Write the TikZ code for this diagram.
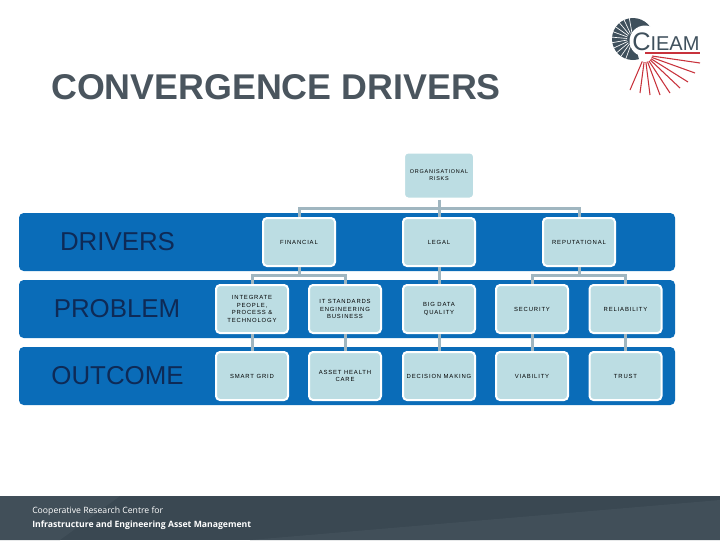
\documentclass[tikz,border=0pt]{standalone}
\usepackage{fontspec}
\setmainfont{Liberation Sans}
\newfontfamily\boxfont[LetterSpace=14]{Liberation Sans}
\newfontfamily\footfont{Open Sans}
\usetikzlibrary{positioning}
\definecolor{bandblue}{HTML}{0A6CB8}
\definecolor{boxfill}{HTML}{BCDDE3}
\definecolor{linkgrey}{HTML}{A0B6C0}
\definecolor{titlegrey}{HTML}{4A555E}
\definecolor{labelnavy}{HTML}{0E2A56}
\definecolor{footdark}{HTML}{3A4852}
\definecolor{footlight}{HTML}{414F59}
\definecolor{logodark}{HTML}{3F505C}
\definecolor{logored}{HTML}{C8323C}

\begin{document}
\begin{tikzpicture}[x=0.75pt, y=-0.75pt,
      band/.style={fill=bandblue, rounded corners=3.5pt, minimum width=492pt, minimum height=43.5pt, inner sep=0pt},
      bandlabel/.style={font=\fontsize{19.4pt}{22pt}\selectfont, text=labelnavy, inner sep=0pt},
      box/.style={draw=white, line width=1.5pt, fill=boxfill, rounded corners=3pt, minimum width=54pt,
                  minimum height=36pt, inner sep=0pt, align=center, text=black,
                  font=\boxfont\fontsize{4.45pt}{5.8pt}\selectfont},
      link/.style={draw=linkgrey, line width=2.25pt},
      ray/.style={draw=logored, line width=0.8pt}
    ]
      \useasboundingbox (0,0) rectangle (720,540);

      \node[anchor=base west, inner sep=0pt, text=titlegrey, font=\bfseries\fontsize{26.85pt}{30pt}\selectfont] (title) at (51,99) {CONVERGENCE DRIVERS};

      % Bands
      \node[band] (bdrivers) at (347,242) {};
      \node[band] (bproblem) at (347,309) {};
      \node[band] (boutcome) at (347,376) {};
      \node[bandlabel] (ldrivers) at (117.5,242) {DRIVERS};
      \node[bandlabel] (lproblem) at (117,309) {PROBLEM};
      \node[bandlabel] (loutcome) at (117.5,376) {OUTCOME};

      % Boxes
      \node[box, minimum width=52.5pt, minimum height=34.5pt, font=\boxfont\fontsize{4.1pt}{5.4pt}\selectfont] (org) at (439,175.5) {ORGANISATIONAL\\RISKS};
      \node[box] (fin) at (299,242) {FINANCIAL};
      \node[box] (leg) at (439,242) {LEGAL};
      \node[box] (rep) at (579,242) {REPUTATIONAL};
      \node[box] (integ) at (252,309) {INTEGRATE\\PEOPLE,\\PROCESS \&\\TECHNOLOGY};
      \node[box] (stand) at (345,309) {IT STANDARDS\\ENGINEERING\\BUSINESS};
      \node[box] (data) at (439,309) {BIG DATA\\QUALITY};
      \node[box] (secu) at (532,309) {SECURITY};
      \node[box] (reli) at (625.5,309) {RELIABILITY};
      \node[box] (grid) at (252,376) {SMART GRID};
      \node[box] (health) at (345,376) {ASSET HEALTH\\CARE};
      \node[box] (deci) at (439,376) {DECISION MAKING};
      \node[box] (viab) at (532,376) {VIABILITY};
      \node[box] (trust) at (625.5,376) {TRUST};

      % Connectors
      \coordinate (orgbus) at (439,208);
      \coordinate (finbus) at (299,275);
      \coordinate (repbus) at (579,275);
      \draw[link] (org.south) -- (leg.north);
      \draw[link] (fin.north) |- (orgbus) -| (rep.north);
      \draw[link] (fin.south) -- (finbus);
      \draw[link] (integ.north) |- (finbus) -| (stand.north);
      \draw[link] (rep.south) -- (repbus);
      \draw[link] (secu.north) |- (repbus) -| (reli.north);
      \draw[link] (leg.south) -- (data.north);
      \draw[link] (integ.south) -- (grid.north);
      \draw[link] (stand.south) -- (health.north);
      \draw[link] (data.south) -- (deci.north);
      \draw[link] (secu.south) -- (viab.north);
      \draw[link] (reli.south) -- (trust.north);

      % Logo
      \fill[logodark] (633,39) circle (21);
      \foreach \a in {110,125,...,260}
        \draw[white, line width=0.5pt] (633,39) ++(\a:6) -- ++(\a:17);
      \fill[white] (645,41) circle (15.5);
      \foreach \x/\y in {700/63, 695/73, 688/82, 680/88, 670/93, 660/95, 650/95, 640/93, 630/90}
        \draw[ray] (645,55) -- (\x,\y);
      \fill[white] (645,55) circle (7);
      \draw[ray] (645,53) -- (700,53);
      \node[inner sep=0pt, anchor=base west, text=logodark, font=\fontsize{15pt}{15pt}\selectfont] (cieam) at (632,50)
        {{\fontsize{19pt}{19pt}\selectfont C}IEAM};

      % Footer
      \fill[footdark] (0,496) rectangle (720,540);
      \fill[footlight] (0,496) -- (120,496) -- (60,540) -- (0,540) -- cycle;
      \fill[footlight] (250,540) -- (720,500) -- (720,540) -- cycle;
      \node[anchor=base west, inner sep=0pt, text=white, font=\footfont\fontsize{6.5pt}{8pt}\selectfont] (foota) at (32,513) {Cooperative Research Centre for};
      \node[anchor=base west, inner sep=0pt, text=white, font=\footfont\bfseries\fontsize{6.5pt}{8pt}\selectfont] (footb) at (32,527) {Infrastructure and Engineering Asset Management};
    \end{tikzpicture}
\end{document}
